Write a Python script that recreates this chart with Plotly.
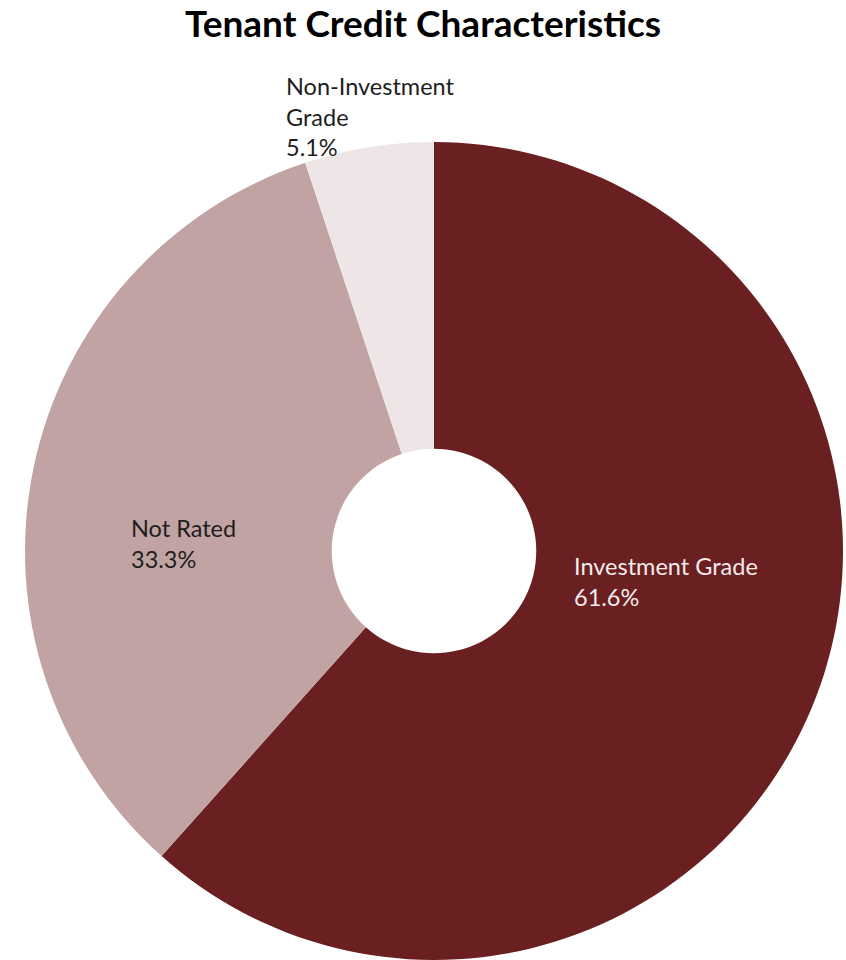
import plotly.graph_objects as go

# Tenant credit mix (% of portfolio)
categories = ["Investment Grade", "Not Rated", "Non-Investment Grade"]
display_labels = ["Investment Grade", "Not Rated", "Non-Investment<br>Grade"]
shares = [61.6, 33.3, 5.1]
colors = ["#6A1F20", "#C2A3A3", "#EEE6E6"]
label_colors = ["#F4ECEC", "#1E1E1E", "#1E1E1E"]

W, H = 846, 960
L, R, T, B = 25, 3, 142, 0

fig = go.Figure(
    go.Pie(
        labels=categories,
        values=shares,
        hole=0.25,
        sort=False,
        direction="clockwise",
        rotation=0,
        marker=dict(colors=colors, line=dict(width=0)),
        textinfo="none",
        showlegend=False,
    )
)


def px_to_paper(x, y):
    return (x - L) / (W - L - R), 1 - (y - T) / (H - T - B)


# label anchor points (left edge, vertical middle) in pixels
label_pos = [(572, 581), (129, 543), (284, 117)]
for name, val, col, (px, py) in zip(display_labels, shares, label_colors, label_pos):
    ax, ay = px_to_paper(px, py)
    fig.add_annotation(
        x=ax, y=ay, xref="paper", yref="paper",
        text=f"{name}<br>{val:.1f}%",
        showarrow=False, xanchor="left", yanchor="middle", align="left",
        font=dict(family="Lato", size=23.5, color=col),
    )

fig.update_layout(
    width=W, height=H,
    margin=dict(l=L, r=R, t=T, b=B),
    paper_bgcolor="white",
    plot_bgcolor="white",
    title=dict(
        text="<b>Tenant Credit Characteristics</b>",
        x=0.5, xanchor="center", xref="container",
        y=1 - 24 / H, yanchor="middle", yref="container",
        font=dict(family="Lato", size=37, color="#000000"),
    ),
)

fig.write_html("out.html")
